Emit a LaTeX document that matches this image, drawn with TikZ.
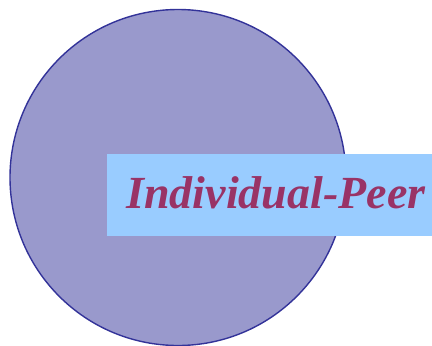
\documentclass[tikz,border=0pt]{standalone}
\usepackage{fontspec}
\setmainfont{Liberation Serif}
\definecolor{circfill}{HTML}{9999CC}
\definecolor{circline}{HTML}{333399}
\definecolor{boxfill}{HTML}{99CCFF}
\definecolor{txt}{HTML}{993366}
\begin{document}
\begin{tikzpicture}[x=1pt,y=-1pt,
  ring/.style={circle,fill=circfill,draw=circline,line width=1.4pt,minimum size=336pt,inner sep=0pt},
  label/.style={fill=boxfill,minimum width=325pt,minimum height=82pt,inner sep=0pt}]
\useasboundingbox (0,0) rectangle (432,346);
\node[ring] (c) at (178,177.5) {};
\node[label] (b) at (269.5,195) {};
\node[text=txt,font=\fontsize{46}{52}\selectfont\bfseries\itshape,anchor=base] (t) at (276,208) {Individual-Peer};
\end{tikzpicture}
\end{document}
